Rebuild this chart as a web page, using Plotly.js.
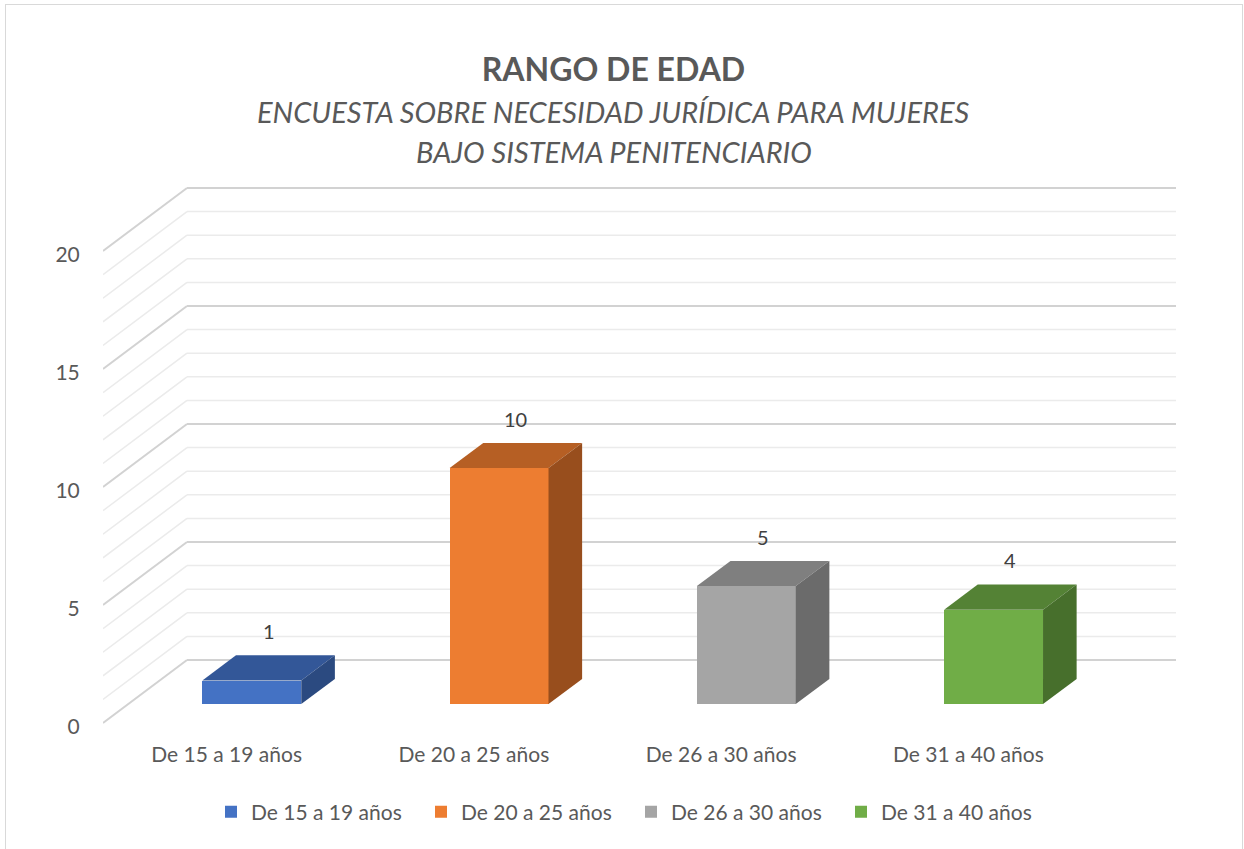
<!DOCTYPE html>
<html>
<head>
<meta charset="utf-8">
<script src="https://cdn.plot.ly/plotly-3.0.1.min.js"></script>
<style>
  html, body { margin: 0; padding: 0; background: #ffffff; overflow: hidden; }
  #chart { position: absolute; left: 0; top: 0; width: 1244px; height: 849px; }
  #frame { position: absolute; left: 5px; top: 4px; width: 1236px; height: 900px;
           border: 1px solid #d9d9d9; pointer-events: none; }
</style>
</head>
<body>
<div id="chart"></div>
<div id="frame"></div>
<script>
// ---- data ----
const categories = ['De 15 a 19 años', 'De 20 a 25 años', 'De 26 a 30 años', 'De 31 a 40 años'];
const values = [1, 10, 5, 4];
const yTickVals = [0, 5, 10, 15, 20];
const yTickText = ['0', '5', '10', '15', '20'];
const gridValues = [0,1,2,3,4,5,6,7,8,9,10,11,12,13,14,15,16,17,18,19,20];
const titleText = 'RANGO DE EDAD';
const subtitleLines = ['ENCUESTA SOBRE NECESIDAD JURÍDICA PARA MUJERES', 'BAJO SISTEMA PENITENCIARIO'];

// ---- styles ----
const frontColors = ['#4472C4', '#ED7D31', '#A5A5A5', '#70AD47'];
const topColors   = ['#335798', '#B65F24', '#7F7F7F', '#548235'];
const sideColors  = ['#2B4A80', '#984E1D', '#6B6B6B', '#476F2C'];
const textColor = '#595959';
const FONT = 'Lato, "Open Sans", sans-serif';

// plot geometry (px)
const PLOT_TOP = 180, PLOT_BOTTOM = 740, ZERO_PX = 723, PX_PER_UNIT = 23.6;

// oblique-projection depth offsets (in axis units)
const DX = 0.3397;   // horizontal shift from front plane to back wall
const DY = 2.67;     // vertical shift from front plane to back wall
const D0 = 0.30, D1 = 0.70;  // bar depth span (fraction of floor depth)
const HALF = 0.2;    // half bar width (category units)

const traces = [];

// front faces as bar traces (also provide legend entries)
categories.forEach((c, i) => {
  traces.push({
    type: 'bar',
    name: c,
    x: [i + D0 * DX],
    y: [values[i]],
    base: [D0 * DY],
    width: [2 * HALF],
    marker: { color: frontColors[i], line: { width: 0 } },
    hoverinfo: 'skip',
    showlegend: true
  });
});

// top and side faces
categories.forEach((c, i) => {
  const v = values[i];
  const xl = i - HALF + D0 * DX, xr = i + HALF + D0 * DX;
  const ddx = (D1 - D0) * DX, ddy = (D1 - D0) * DY;
  const yb = D0 * DY, yt = v + D0 * DY;
  traces.push({
    type: 'scatter', mode: 'lines', fill: 'toself',
    x: [xl, xr, xr + ddx, xl + ddx, xl],
    y: [yt, yt, yt + ddy, yt + ddy, yt],
    fillcolor: topColors[i], line: { width: 0, color: topColors[i] },
    hoverinfo: 'skip', showlegend: false
  });
  traces.push({
    type: 'scatter', mode: 'lines', fill: 'toself',
    x: [xr, xr, xr + ddx, xr + ddx, xr],
    y: [yb, yt, yt + ddy, yb + ddy, yb],
    fillcolor: sideColors[i], line: { width: 0, color: sideColors[i] },
    hoverinfo: 'skip', showlegend: false
  });
});

// gridlines: back wall + left side wall
const shapes = [];
const xLeft = -0.5, xRight = categories.length - 0.5;
gridValues.forEach(v => {
  const major = v % 5 === 0;
  const line = { color: major ? '#d2d2d2' : '#ebebeb', width: major ? 2 : 1.5 };
  shapes.push({ type: 'line', layer: 'below', xref: 'x', yref: 'y',
    x0: xLeft + DX, y0: v + DY, x1: xRight + DX, y1: v + DY, line: line });
  shapes.push({ type: 'line', layer: 'below', xref: 'x', yref: 'y',
    x0: xLeft, y0: v, x1: xLeft + DX, y1: v + DY, line: line });
});

// data labels at the bar's mid-depth, above the top face
const annotations = categories.map((c, i) => ({
  x: i + 0.5 * DX, y: values[i] + D1 * DY,
  xref: 'x', yref: 'y', text: String(values[i]), showarrow: false,
  yanchor: 'middle', yshift: 24,
  font: { family: FONT, size: 20, color: '#404040' }
}));

// subtitle lines (italic), positioned in paper coordinates
const plotH = PLOT_BOTTOM - PLOT_TOP;
const subtitleY = [111, 152];
const titleCenterX = (613.5 - 103) / 1073;
subtitleLines.forEach((t, k) => {
  annotations.push({
    xref: 'paper', yref: 'paper', x: titleCenterX, y: (PLOT_BOTTOM - subtitleY[k]) / plotH,
    xanchor: 'center', yanchor: 'middle', showarrow: false,
    text: '<i>' + t + '</i>',
    font: { family: FONT, size: 29, color: textColor }
  });
});

const layout = {
  width: 1244, height: 849,
  autosize: false,
  paper_bgcolor: '#ffffff', plot_bgcolor: 'rgba(0,0,0,0)',
  margin: { l: 103, r: 68, t: PLOT_TOP, b: 849 - PLOT_BOTTOM, pad: 0 },
  title: {
    text: '<b>' + titleText + '</b>',
    font: { family: FONT, size: 32, color: textColor },
    x: 613.5 / 1244, xanchor: 'center', xref: 'container',
    y: 1 - 70 / 849, yanchor: 'middle', yref: 'container'
  },
  barmode: 'overlay',
  bargap: 0,
  xaxis: {
    range: [-0.5, 3.8397], showgrid: false, zeroline: false, showline: false,
    tickmode: 'array', tickvals: [0, 1, 2, 3], ticktext: categories,
    ticks: '',
    tickfont: { family: FONT, size: 21, color: textColor }, fixedrange: true
  },
  yaxis: {
    range: [-(PLOT_BOTTOM - ZERO_PX) / PX_PER_UNIT, (ZERO_PX - PLOT_TOP) / PX_PER_UNIT],
    showgrid: false, zeroline: false, showline: false,
    tickmode: 'array', tickvals: yTickVals, ticktext: yTickText,
    ticks: 'outside', ticklen: 18, tickcolor: 'rgba(0,0,0,0)',
    ticklabelshift: 4,
    tickfont: { family: FONT, size: 21, color: textColor }, fixedrange: true
  },
  shapes: shapes,
  annotations: annotations,
  showlegend: true,
  legend: {
    orientation: 'h', xref: 'container', yref: 'container',
    x: 211 / 1244, xanchor: 'left', y: 1 - 812 / 849, yanchor: 'middle',
    font: { family: FONT, size: 21, color: textColor },
    traceorder: 'normal', itemwidth: 30,
    entrywidth: 165, entrywidthmode: 'pixels'
  }
};

Plotly.newPlot('chart', traces, layout, { displayModeBar: false, staticPlot: true });
</script>
</body>
</html>
